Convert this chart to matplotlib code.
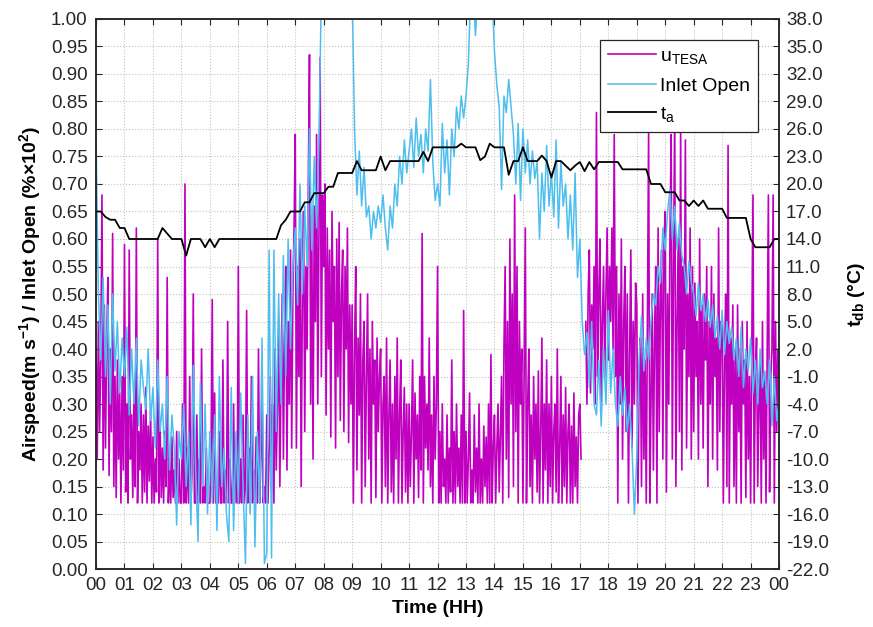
import matplotlib
matplotlib.use('Agg')
import matplotlib.pyplot as plt
import numpy as np

plt.rcParams['font.family'] = ['Liberation Sans', 'DejaVu Sans']
plt.rcParams['mathtext.fontset'] = 'custom'
plt.rcParams['mathtext.rm'] = 'Liberation Sans'
plt.rcParams['mathtext.it'] = 'Liberation Sans:italic'
plt.rcParams['mathtext.bf'] = 'Liberation Sans:bold'

nan = np.nan

# airspeed u_TESA (m/s), one value every 2.5 min, one row per hour
u_tesa = [
    0.40, 0.20, 0.45, 0.25, 0.38, 0.68, 0.18, 0.48, 0.22, 0.42, 0.53, 0.17, 0.40, 0.25, 0.61, 0.15, 0.35, 0.13, 0.38, 0.20, 0.32, 0.12, 0.35, 0.18,
    0.59, 0.14, 0.30, 0.12, 0.58, 0.20, 0.28, 0.13, 0.32, 0.15, 0.62, 0.12, 0.25, 0.18, 0.30, 0.12, 0.28, 0.14, 0.33, 0.12, 0.26, 0.16, 0.29, 0.12,
    0.24, 0.12, 0.20, 0.14, 0.60, 0.12, 0.27, 0.13, 0.22, 0.12, 0.25, 0.15, 0.53, 0.12, 0.20, 0.12, 0.24, 0.13, 0.18, 0.12, 0.25, 0.12, 0.20, 0.12,
    0.12, 0.30, 0.12, 0.70, 0.12, 0.22, 0.12, 0.35, 0.12, 0.18, 0.50, 0.12, 0.12, 0.28, 0.12, 0.20, 0.12, 0.40, 0.12, 0.15, 0.12, 0.22, 0.12, 0.12,
    0.12, 0.20, 0.49, 0.12, 0.32, 0.12, 0.15, 0.12, 0.25, 0.12, 0.12, 0.38, 0.12, 0.18, 0.12, 0.45, 0.12, 0.20, 0.12, 0.12, 0.30, 0.12, 0.22, 0.12,
    0.55, 0.12, 0.20, 0.12, 0.28, 0.12, 0.15, 0.47, 0.12, 0.22, 0.12, 0.35, 0.12, 0.18, 0.12, 0.24, 0.12, 0.40, 0.12, 0.20, 0.33, 0.12, 0.15, 0.12,
    0.28, 0.12, 0.22, 0.35, 0.14, 0.30, 0.12, 0.40, 0.18, 0.30, 0.45, 0.15, 0.35, 0.50, 0.20, 0.42, 0.55, 0.18, 0.45, 0.30, 0.58, 0.22, 0.50, 0.62,
    0.79, 0.22, 0.55, 0.35, 0.60, 0.15, 0.50, 0.65, 0.25, 0.55, 0.40, 0.70, 0.935, 0.30, 0.60, 0.20, 0.66, 0.45, 0.79, 0.30, 0.62, 0.93, 0.35, 0.68,
    0.55, 0.70, 0.28, 0.62, 0.40, 0.58, 0.24, 0.65, 0.45, 0.55, 0.22, 0.60, 0.35, 0.63, 0.27, 0.50, 0.58, 0.25, 0.55, 0.40, 0.62, 0.23, 0.48, 0.30,
    0.48, 0.12, 0.40, 0.55, 0.18, 0.42, 0.28, 0.50, 0.12, 0.38, 0.45, 0.15, 0.35, 0.50, 0.20, 0.40, 0.12, 0.45, 0.30, 0.38, 0.13, 0.42, 0.25, 0.35,
    0.40, 0.12, 0.30, 0.35, 0.15, 0.42, 0.12, 0.28, 0.38, 0.14, 0.30, 0.12, 0.35, 0.20, 0.42, 0.12, 0.28, 0.38, 0.12, 0.25, 0.33, 0.14, 0.30, 0.12,
    0.30, 0.15, 0.25, 0.38, 0.12, 0.32, 0.20, 0.28, 0.13, 0.35, 0.18, 0.61, 0.12, 0.35, 0.22, 0.30, 0.18, 0.42, 0.15, 0.28, 0.12, 0.35, 0.20, 0.30,
    0.55, 0.12, 0.25, 0.12, 0.30, 0.15, 0.20, 0.12, 0.28, 0.12, 0.22, 0.14, 0.38, 0.12, 0.25, 0.12, 0.30, 0.15, 0.22, 0.12, 0.28, 0.12, 0.47, 0.12,
    0.25, 0.12, 0.20, 0.32, 0.12, 0.18, 0.12, 0.28, 0.14, 0.22, 0.12, 0.30, 0.12, 0.20, 0.12, 0.26, 0.15, 0.24, 0.12, 0.30, 0.12, 0.39, 0.12, 0.22,
    0.28, 0.12, 0.22, 0.30, 0.14, 0.25, 0.35, 0.12, 0.40, 0.55, 0.20, 0.45, 0.13, 0.60, 0.30, 0.50, 0.15, 0.68, 0.25, 0.55, 0.12, 0.45, 0.30, 0.40,
    0.12, 0.35, 0.62, 0.12, 0.30, 0.40, 0.15, 0.28, 0.12, 0.35, 0.20, 0.30, 0.14, 0.36, 0.12, 0.25, 0.42, 0.12, 0.30, 0.18, 0.38, 0.12, 0.30, 0.15,
    0.35, 0.12, 0.25, 0.30, 0.14, 0.40, 0.12, 0.22, 0.35, 0.12, 0.28, 0.15, 0.33, 0.12, 0.25, 0.30, 0.12, 0.26, 0.12, 0.32, 0.15, 0.24, 0.12, 0.28,
    0.30, 0.20, nan, nan, nan, 0.45, 0.30, 0.50, 0.58, 0.32, 0.48, 0.40, 0.55, 0.30, 0.83, 0.35, 0.50, 0.60, 0.28, 0.45, 0.55, 0.35, 0.50, 0.62,
    0.38, 0.55, 0.45, 0.62, 0.40, 0.79, 0.35, 0.55, 0.12, 0.50, 0.30, 0.60, 0.20, 0.45, 0.55, 0.25, 0.50, 0.12, 0.40, 0.58, 0.22, 0.45, 0.30, 0.52,
    0.48, 0.12, 0.35, 0.42, 0.15, 0.50, 0.20, 0.38, 0.12, 0.45, 0.80, 0.12, 0.30, 0.50, 0.18, 0.42, 0.55, 0.12, 0.62, 0.25, 0.50, 0.58, 0.20, 0.60,
    0.65, 0.14, 0.50, 0.30, 0.60, 0.79, 0.20, 0.55, 0.83, 0.15, 0.45, 0.60, 0.25, 0.80, 0.18, 0.55, 0.40, 0.78, 0.22, 0.50, 0.35, 0.62, 0.20, 0.55,
    0.25, 0.52, 0.35, 0.45, 0.20, 0.60, 0.30, 0.48, 0.22, 0.50, 0.38, 0.55, 0.15, 0.45, 0.30, 0.55, 0.20, 0.50, 0.35, 0.42, 0.18, 0.62, 0.25, 0.45,
    0.45, 0.12, 0.38, 0.50, 0.15, 0.77, 0.12, 0.42, 0.30, 0.48, 0.15, 0.40, 0.12, 0.48, 0.25, 0.40, 0.12, 0.45, 0.30, 0.38, 0.13, 0.45, 0.20, 0.35,
    0.12, 0.40, 0.68, 0.12, 0.35, 0.42, 0.15, 0.30, 0.38, 0.12, 0.45, 0.20, 0.35, 0.12, 0.40, 0.68, 0.14, 0.35, 0.40, 0.68, 0.12, 0.45, 0.25, 0.40,
    0.35,
]

# inlet opening (fraction), every 5 min; values above 1 run off the top
inlet_open = [
    0.78, 0.50, 0.38, 0.53, 0.35, 0.48, 0.30, 0.50, 0.36, 0.45, 0.32, 0.42,
    0.35, 0.44, 0.28, 0.40, 0.30, 0.42, 0.26, 0.38, 0.33, 0.29, 0.40, 0.27,
    0.33, 0.22, 0.38, 0.25, 0.30, 0.20, 0.35, 0.18, 0.28, 0.22, 0.08, 0.25,
    0.20, 0.30, 0.15, 0.25, 0.08, 0.37, 0.18, 0.05, 0.34, 0.15, 0.30, 0.10,
    0.25, 0.12, 0.28, 0.07, 0.35, 0.15, 0.22, 0.10, 0.05, 0.33, 0.07, 0.25,
    0.12, 0.32, 0.15, 0.01, 0.28, 0.10, 0.35, 0.04, 0.25, 0.12, 0.42, 0.01,
    0.03, 0.58, 0.02, 0.58, 0.25, 0.50, 0.30, 0.57, 0.35, 0.60, 0.40, 0.55,
    0.62, 0.48, 0.70, 0.50, 0.66, 0.55, 0.80, 0.58, 0.75, 0.62, 0.78, 1.05,
    1.05, 1.05, 1.05, 1.05, 1.05, 1.05, 1.05, 1.05, 1.05, 1.05, 1.05, 1.05,
    1.05, 0.80, 0.68, 0.76, 0.66, 0.73, 0.64, 0.66, 0.60, 0.65, 0.62, 0.66,
    0.63, 0.68, 0.62, 0.58, 0.66, 0.62, 0.70, 0.66, 0.75, 0.70, 0.78, 0.72,
    0.76, 0.80, 0.73, 0.82, 0.75, 0.79, 0.72, 0.80, 0.76, 0.89, 0.74, 0.67,
    0.70, 0.66, 0.81, 0.72, 0.78, 0.68, 0.80, 0.75, 0.84, 0.80, 0.86, 0.82,
    0.86, 0.92, 1.05, 1.05, 0.97, 1.05, 1.05, 1.05, 1.05, 1.05, 1.05, 1.05,
    0.94, 0.88, 0.84, 0.69, 0.86, 0.83, 0.89, 0.84, 0.79, 0.70, 0.81, 0.67,
    0.80, 0.72, 0.78, 0.70, 0.76, 0.71, 0.74, 0.60, 0.72, 0.65, 0.77, 0.66,
    0.72, 0.64, 0.78, 0.62, 0.74, 0.66, 0.70, 0.60, 0.68, 0.58, 0.72, 0.53,
    0.60, 0.45, 0.39, 0.43, 0.33, 0.45, 0.30, 0.28, 0.38, 0.26, 0.40, 0.30,
    0.47, 0.32, 0.40, 0.30, 0.26, 0.35, 0.28, 0.33, 0.25, 0.30, 0.22, 0.10,
    0.20, 0.38, 0.46, 0.36, 0.42, 0.38, 0.45, 0.50, 0.48, 0.55, 0.52, 0.62,
    0.58, 0.65, 0.69, 0.60, 0.66, 0.58, 0.63, 0.57, 0.55, 0.50, 0.56, 0.52,
    0.50, 0.46, 0.52, 0.47, 0.50, 0.45, 0.49, 0.44, 0.48, 0.42, 0.46, 0.40,
    0.47, 0.39, 0.45, 0.41, 0.44, 0.38, 0.42, 0.35, 0.44, 0.33, 0.40, 0.36,
    0.42, 0.32, 0.38, 0.30, 0.40, 0.33, 0.36, 0.30, 0.38, 0.26, 0.35, 0.27,
    0.30,
]

# ambient dry-bulb temperature (degC), every 10 min
t_a = [
    17.0, 17.0, 16.4, 16.1, 16.1, 15.2,
    15.2, 14.0, 14.0, 14.0, 14.0, 14.0,
    14.0, 14.0, 15.2, 14.6, 14.0, 14.0,
    14.0, 12.2, 14.0, 14.0, 14.0, 13.1,
    14.0, 13.1, 14.0, 14.0, 14.0, 14.0,
    14.0, 14.0, 14.0, 14.0, 14.0, 14.0,
    14.0, 14.0, 14.0, 15.5, 16.1, 17.0,
    17.0, 17.0, 18.0, 18.0, 19.0, 19.0,
    19.0, 19.7, 19.7, 21.2, 21.2, 21.2,
    21.2, 22.5, 21.5, 21.5, 21.5, 21.5,
    23.0, 21.5, 22.5, 22.5, 22.5, 22.5,
    22.5, 22.5, 22.5, 23.5, 22.5, 24.0,
    24.0, 24.0, 24.0, 24.0, 24.0, 24.4,
    24.0, 24.0, 24.0, 22.6, 23.0, 24.4,
    24.0, 24.0, 24.0, 21.0, 22.5, 22.5,
    24.0, 22.5, 22.5, 22.5, 23.1, 22.5,
    20.7, 22.5, 22.5, 22.0, 21.5, 22.0,
    22.4, 21.4, 22.4, 21.6, 22.4, 22.4,
    22.4, 22.4, 22.4, 21.6, 21.6, 21.6,
    21.6, 21.6, 21.6, 20.0, 20.0, 20.0,
    19.1, 19.1, 19.1, 18.2, 18.2, 17.6,
    18.2, 17.6, 18.2, 17.3, 17.3, 17.3,
    17.3, 16.3, 16.3, 16.3, 16.3, 16.3,
    14.0, 13.1, 13.1, 13.1, 13.1, 14.0,
    14.0,
]

hour_labels = ['%02d' % (h % 24) for h in range(25)]

t_u = np.arange(len(u_tesa)) * 2.5 / 60.0
t5 = np.arange(len(inlet_open)) * 5 / 60.0
t10 = np.arange(len(t_a)) * 10 / 60.0

fig = plt.figure(figsize=(8.73, 6.27), dpi=100)
ax = fig.add_axes([0.110, 0.0925, 0.7824, 0.8772])
ax2 = ax.twinx()

l1, = ax.plot(t_u, u_tesa, color='#bf00bf', lw=1.2, label=r'u$_{\mathrm{TESA}}$')
l2, = ax.plot(t5, inlet_open, color='#4dbeee', lw=1.1, label='Inlet Open')
l3, = ax2.plot(t10, t_a, color='black', lw=1.3, label=r't$_{\mathrm{a}}$')

ax.set_xlim(0, 24)
ax.set_ylim(0, 1)
ax2.set_ylim(-22, 38)
ax.set_xticks(range(25))
ax.set_xticklabels(hour_labels)
ax.set_yticks(np.arange(0, 1.001, 0.05))
ax.set_yticklabels(['%.2f' % v for v in np.arange(0, 1.001, 0.05)])
ax2.set_yticks(np.arange(-22, 38.1, 3))
ax2.set_yticklabels(['%.1f' % v for v in np.arange(-22, 38.1, 3)])

ax.grid(True, color='#c4c4c4', ls=':', lw=0.8)
ax.tick_params(axis='both', direction='in', length=4, width=0.8,
               labelsize=13.5, top=True, colors='#262626')
ax.tick_params(axis='x', pad=6)
ax.tick_params(axis='y', pad=6)
ax2.tick_params(axis='y', direction='in', length=4, width=0.8,
                labelsize=13.5, pad=5, colors='#262626')
for a in (ax, ax2):
    for s in a.spines.values():
        s.set_color('#262626')
        s.set_linewidth(1.1)

ax.set_xlabel('Time (HH)', fontsize=14, fontweight='bold', labelpad=4)
ax.set_ylabel(r'Airspeed(m s$^{\mathbf{-1}}$) / Inlet Open (%$\mathbf{\times}$10$^{\mathbf{2}}$)',
              fontsize=14, fontweight='bold', labelpad=6)
ax2.set_ylabel(r't$_{\mathbf{db}}$ (°C)', fontsize=14, fontweight='bold',
               rotation=90, labelpad=12)

leg = ax2.legend([l1, l2, l3], [l1.get_label(), l2.get_label(), l3.get_label()],
                 loc='upper right', bbox_to_anchor=(0.969, 0.962), borderaxespad=0,
                 fontsize=14, handlelength=2.5, handletextpad=0.2, borderpad=0.4,
                 labelspacing=0.55, fancybox=False, framealpha=1,
                 edgecolor='#262626')
leg.get_frame().set_linewidth(0.9)

fig.savefig('out.png', dpi=100)
